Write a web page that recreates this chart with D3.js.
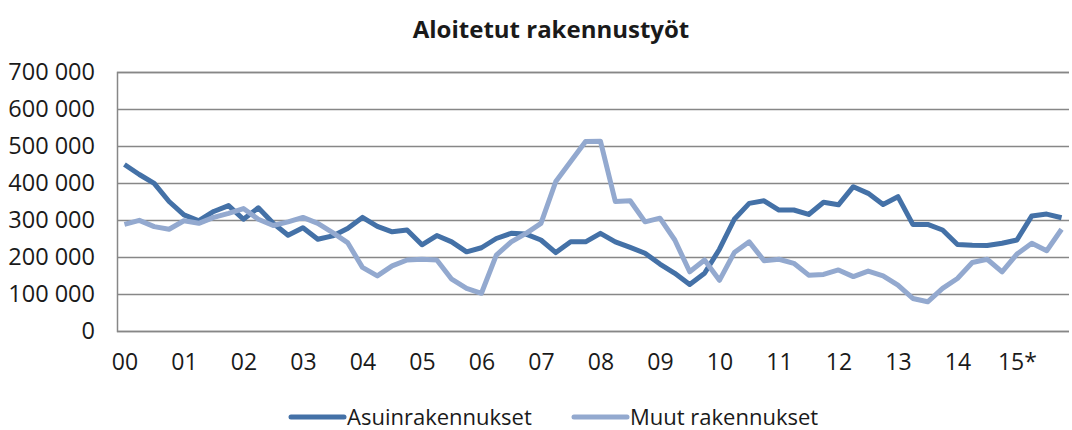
<!DOCTYPE html>
<html>
<head>
<meta charset="utf-8">
<script src="https://cdn.jsdelivr.net/npm/d3@7"></script>
<style>
  body { margin: 0; background: #fff; }
  text { font-family: "Open Sans", sans-serif; fill: #1a1a1a; }
</style>
</head>
<body>
<div id="chart"></div>
<script>
// quarterly figures 2000Q1 - 2015Q4
var quarters = d3.range(64);
var yearLabels = ['00', '01', '02', '03', '04', '05', '06', '07', '08', '09', '10', '11', '12', '13', '14', '15*'];
var yTicks = [0, 100000, 200000, 300000, 400000, 500000, 600000, 700000];

var asuinrakennukset = [
  450, 423, 399, 350, 314, 298, 323, 339, 302, 333, 291, 259, 279, 248, 257, 277,
  307, 283, 268, 273, 233, 258, 241, 214, 225, 250, 264, 262, 246, 212, 241, 241,
  264, 241, 226, 210, 181, 156, 126, 156, 221, 302, 345, 352, 327, 327, 315, 348,
  341, 390, 372, 342, 363, 288, 288, 273, 234, 232, 231, 237, 246, 311, 316, 306
];
var muutRakennukset = [
  288, 299, 282, 275, 298, 291, 307, 318, 331, 302, 285, 295, 307, 291, 266, 239,
  172, 149, 176, 192, 194, 192, 140, 115, 102, 205, 241, 264, 291, 404, 458, 512,
  513, 350, 352, 295, 305, 246, 160, 192, 137, 212, 241, 190, 194, 183, 151, 153,
  165, 147, 162, 149, 124, 88, 79, 115, 142, 185, 194, 160, 208, 237, 217, 275
];

var seriesNames = ['Asuinrakennukset', 'Muut rakennukset'];
var seriesColors = ['#4471a7', '#93a9cf'];

var width = 1072;
var height = 430;
var plot = { left: 117, right: 1069, top: 72, bottom: 331 };

var svg = d3.select('#chart').append('svg')
  .attr('width', width)
  .attr('height', height);

var xScale = d3.scalePoint()
  .domain(quarters)
  .range([plot.left, plot.right])
  .padding(0.5);

var yScale = d3.scaleLinear()
  .domain([0, 700000])
  .range([plot.bottom, plot.top]);

var fmt = function(d) {
  return d3.format(',')(d).replace(/,/g, ' ');
};

// title
svg.append('text')
  .attr('x', 551)
  .attr('y', 38)
  .attr('text-anchor', 'middle')
  .style('font-size', '24px')
  .style('font-weight', 'bold')
  .text('Aloitetut rakennustyöt');

// gridlines + y labels
var yAxis = d3.axisLeft(yScale)
  .tickValues(yTicks)
  .tickFormat(fmt)
  .tickSize(-(plot.right - plot.left))
  .tickPadding(22);

var gy = svg.append('g')
  .attr('transform', `translate(${plot.left},0)`)
  .call(yAxis);
gy.select('.domain').attr('stroke', '#878787').attr('stroke-width', 1.5);
gy.selectAll('.tick line').attr('stroke', '#878787').attr('stroke-width', 1.5);
gy.selectAll('.tick text')
  .style('font-size', '23.5px')
  .attr('fill', '#1a1a1a');

// x labels, one per year at the first quarter
var xAxis = d3.axisBottom(xScale)
  .tickValues(quarters.filter(function(q) { return q % 4 === 0; }))
  .tickFormat(function(q) { return yearLabels[q / 4]; })
  .tickSize(0)
  .tickPadding(23);

var gx = svg.append('g')
  .attr('transform', `translate(0,${plot.bottom})`)
  .call(xAxis);
gx.select('.domain').remove();
gx.selectAll('.tick text')
  .style('font-size', '23px')
  .attr('fill', '#1a1a1a');

var line = d3.line()
  .x(function(d, i) { return xScale(i); })
  .y(function(d) { return yScale(d * 1000); });

[asuinrakennukset, muutRakennukset].forEach(function(values, k) {
  svg.append('path')
    .datum(values)
    .attr('fill', 'none')
    .attr('stroke', seriesColors[k])
    .attr('stroke-width', 5)
    .attr('stroke-linejoin', 'round')
    .attr('d', line);
});

// legend
var legendX = [291, 574];
var legend = svg.append('g');
seriesNames.forEach(function(name, k) {
  legend.append('line')
    .attr('x1', legendX[k])
    .attr('x2', legendX[k] + 53)
    .attr('y1', 417)
    .attr('y2', 417)
    .attr('stroke', seriesColors[k])
    .attr('stroke-width', 5)
    .attr('stroke-linecap', 'round');
  legend.append('text')
    .attr('x', legendX[k] + 56)
    .attr('y', 425)
    .style('font-size', '22px')
    .text(name);
});
</script>
</body>
</html>
